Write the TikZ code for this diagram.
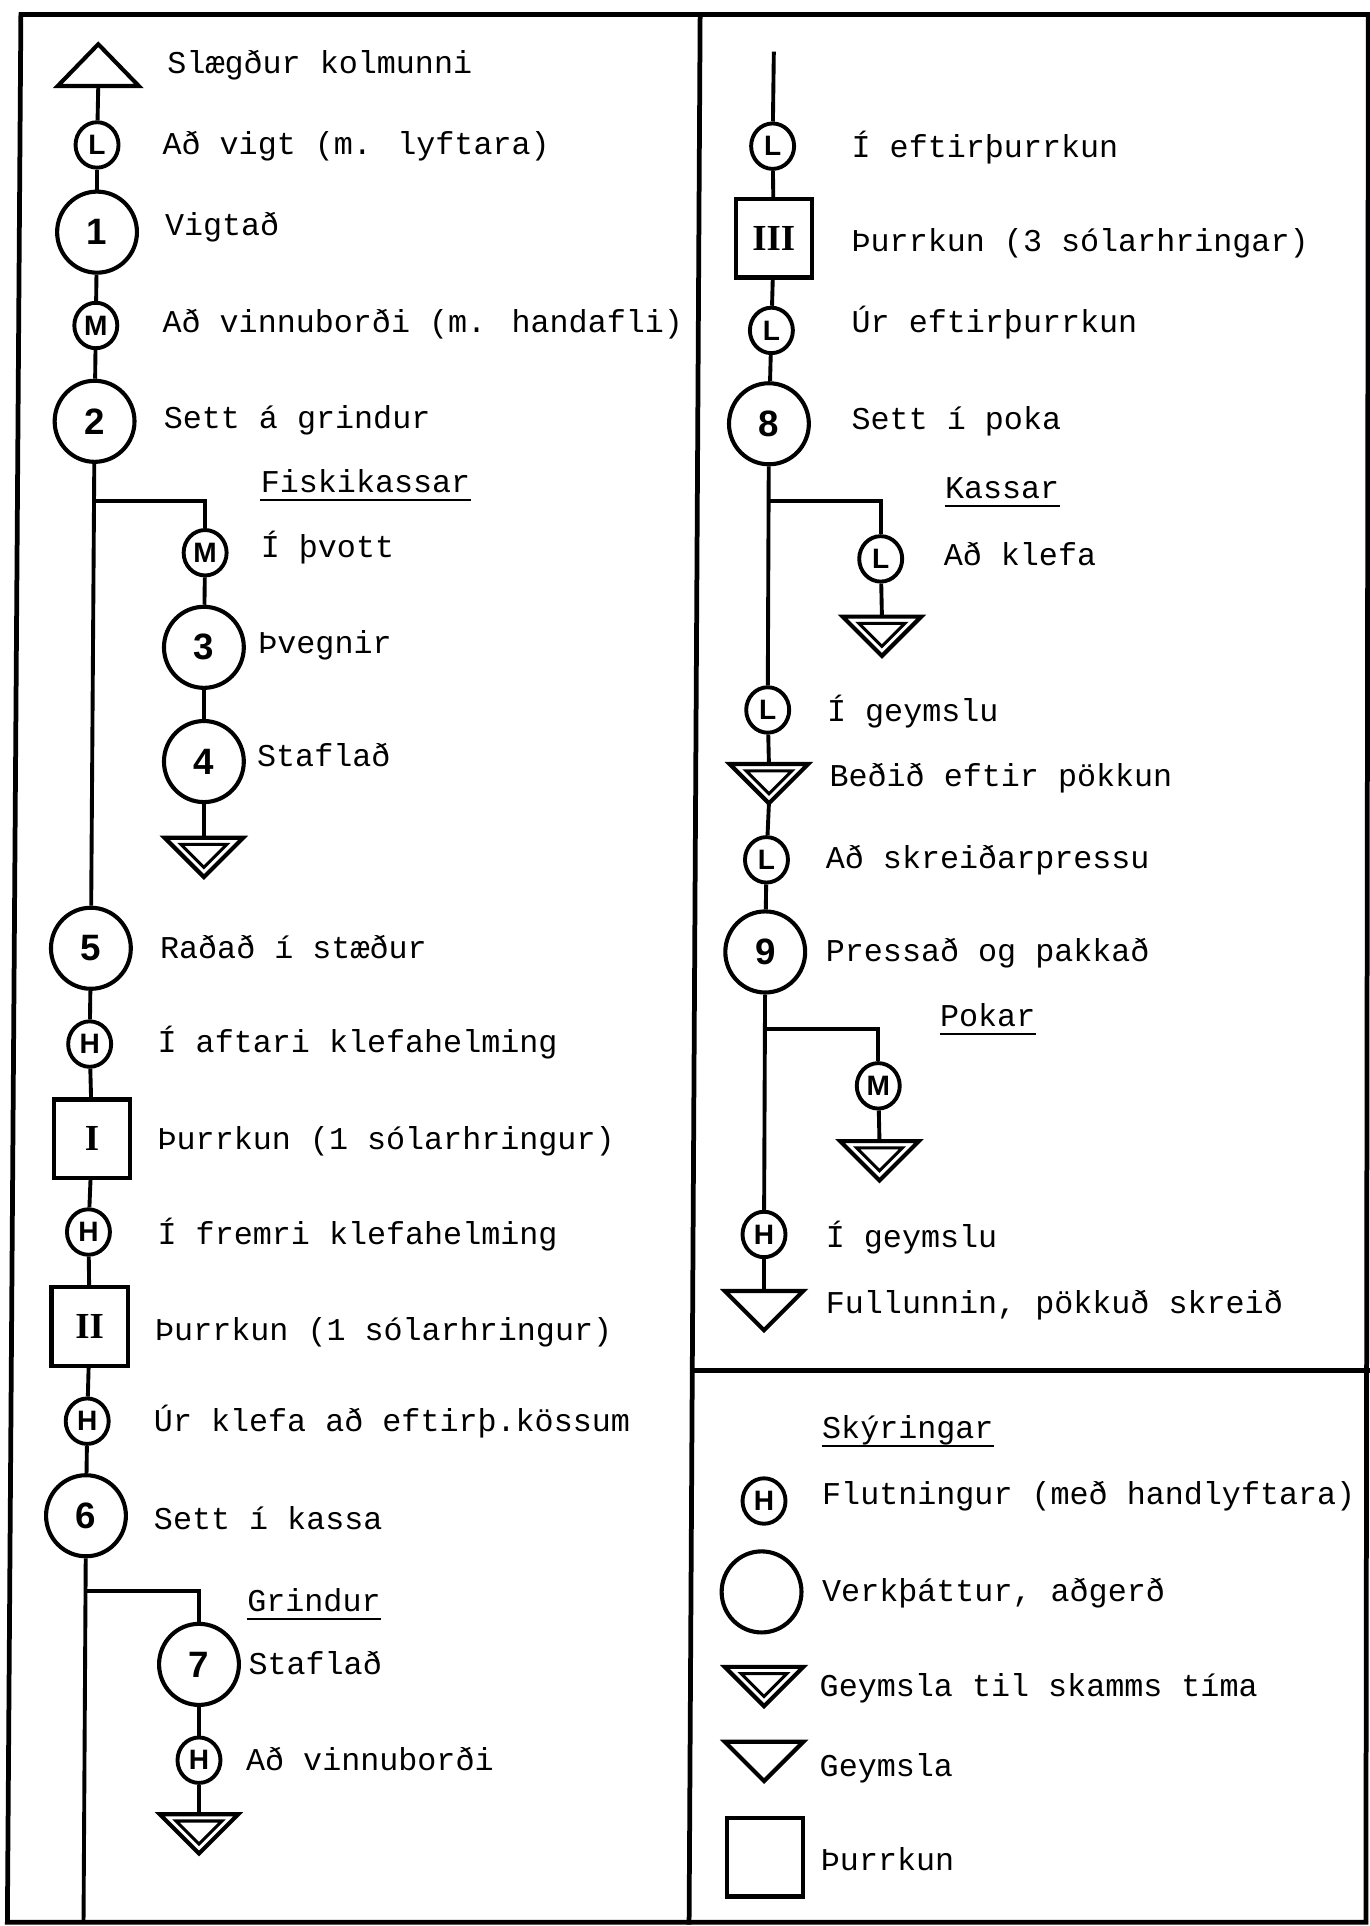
\documentclass[tikz,border=0pt]{standalone}
\usepackage{fontspec}
\setmainfont{Liberation Mono}
\newfontfamily\numfont{Liberation Sans}
\newfontfamily\romfont{Liberation Serif}
\usetikzlibrary{shapes.geometric}
\tikzset{
  conn/.style={line width=1.8pt},
  bigc/.style={ellipse,draw,line width=1.9pt,minimum width=13mm,minimum height=13.2mm,inner sep=0pt,font=\numfont\bfseries\fontsize{17}{17}\selectfont},
  smlc/.style={ellipse,draw,line width=1.8pt,minimum width=7mm,minimum height=7.4mm,inner sep=0pt,font=\numfont\bfseries\fontsize{13}{13}\selectfont},
  dbox/.style={rectangle,draw,line width=2pt,minimum width=12.4mm,minimum height=12.8mm,inner sep=0pt,font=\romfont\bfseries\fontsize{17}{17}\selectfont},
  lbl/.style={anchor=base west,inner sep=0pt,font=\fontsize{14.7}{16}\selectfont},
  uline/.style={line width=0.9pt},
  frm/.style={line width=2.2pt,line cap=rect,line join=miter},
  shp/.style={draw,line width=1.9pt,line join=miter},
  inshp/.style={draw,line width=1.4pt,line join=miter},
  dtri/.pic={\path[shp] (-32,0) -- (32,0) -- (0,32) -- cycle; \path[inshp] (-18.7,5.5) -- (18.7,5.5) -- (0,24.2) -- cycle;},
  stri/.pic={\path[shp] (-32,0) -- (32,0) -- (0,32) -- cycle;},
  utri/.pic={\path[shp] (0,0) -- (33,34) -- (-33,34) -- cycle;}
}
\newcommand\ulin[1]{\draw[uline] ([yshift=-1.2mm]#1.base west) -- ([yshift=-1.2mm]#1.base east);}
\begin{document}
\begin{tikzpicture}[x=0.2mm,y=-0.2mm]
\useasboundingbox (0,0) rectangle (1115,1568);
\fill[white] (0,0) rectangle (1115,1568);
% frame
\draw[frm] (17,12) -- (1116,12);
\draw[frm] (17,12) -- (6,1565) -- (1112,1565) -- (1114,12);
\draw[frm] (570,12) -- (561,1565);
\draw[frm] (566,1116) -- (1113,1116);

% ---------- left column ----------
\pic at (80,36) {utri};
\coordinate (st) at (80,70);
\node[lbl] (x1) at (136,60) {Slægður kolmunni};
\node[smlc] (lA) at (79,118) {L};
\node[lbl] (x2) at (132,126) {Að vigt (m. lyftara)};
\node[bigc] (c1) at (79,189) {1};
\node[lbl] (x3) at (134,192) {Vigtað};
\node[smlc] (mA) at (78,265) {M};
\node[lbl] (x4) at (132,271) {Að vinnuborði (m. handafli)};
\node[bigc] (c2) at (77,343) {2};
\node[lbl] (x5) at (133,349) {Sett á grindur};
\coordinate (b1) at (76,408);
\node[lbl] (x6) at (212,401) {Fiskikassar};
\ulin{x6}
\node[smlc] (mB) at (167,450) {M};
\node[lbl] (x7) at (212,454) {Í þvott};
\node[bigc] (c3) at (166,527) {3};
\node[lbl] (x8) at (210,532) {Þvegnir};
\node[bigc] (c4) at (166,620) {4};
\node[lbl] (x9) at (209,624) {Staflað};
\pic at (166,682) {dtri};
\coordinate (tA) at (166,682);
\node[bigc] (c5) at (74,772) {5};
\node[lbl] (x10) at (130,780) {Raðað í stæður};
\node[smlc] (hA) at (73,850) {H};
\node[lbl] (x11) at (128,857) {Í aftari klefahelming};
\node[dbox] (bI) at (75,927) {I};
\node[lbl] (x12) at (128,936) {Þurrkun (1 sólarhringur)};
\node[smlc] (hB) at (72,1003) {H};
\node[lbl] (x13) at (128,1013) {Í fremri klefahelming};
\node[dbox] (bII) at (73,1080) {II};
\node[lbl] (x14) at (126,1091) {Þurrkun (1 sólarhringur)};
\node[smlc] (hC) at (71,1157) {H};
\node[lbl] (x15) at (125,1165) {Úr klefa að eftirþ.kössum};
\node[bigc] (c6) at (70,1234) {6};
\node[lbl] (x16) at (125,1245) {Sett í kassa};
\coordinate (b2) at (69,1295);
\node[lbl] (x17) at (201,1312) {Grindur};
\ulin{x17}
\node[bigc] (c7) at (162,1355) {7};
\node[lbl] (x18) at (202,1363) {Staflað};
\node[smlc] (hD) at (162,1433) {H};
\node[lbl] (x19) at (200,1441) {Að vinnuborði};
\pic at (162,1477) {dtri};
\coordinate (tB) at (162,1477);
\coordinate (eL) at (68,1565);

\draw[conn] (st) -- (lA);
\draw[conn] (lA) -- (c1);
\draw[conn] (c1) -- (mA);
\draw[conn] (mA) -- (c2);
\draw[conn] (c2) -- (c5);
\draw[conn] (b1) -| (mB);
\draw[conn] (mB) -- (c3);
\draw[conn] (c3) -- (c4);
\draw[conn] (c4) -- (tA);
\draw[conn] (c5) -- (hA);
\draw[conn] (hA) -- (bI);
\draw[conn] (bI) -- (hB);
\draw[conn] (hB) -- (bII);
\draw[conn] (bII) -- (hC);
\draw[conn] (hC) -- (c6);
\draw[conn] (c6) -- (eL);
\draw[conn] (b2) -| (c7);
\draw[conn] (c7) -- (hD);
\draw[conn] (hD) -- (tB);

% ---------- right column ----------
\coordinate (tR) at (630,42);
\node[smlc] (lB) at (629,119) {L};
\node[lbl] (y1) at (693,128) {Í eftirþurrkun};
\node[dbox] (bIII) at (630,194) {III};
\node[lbl] (y2) at (693,205) {Þurrkun (3 sólarhringar)};
\node[smlc] (lC) at (628,269) {L};
\node[lbl] (y3) at (693,271) {Úr eftirþurrkun};
\node[bigc] (c8) at (626,345) {8};
\node[lbl] (y4) at (693,350) {Sett í poka};
\coordinate (b3) at (626,408);
\node[lbl] (y5) at (769,406) {Kassar};
\ulin{y5}
\node[smlc] (lD) at (717,455) {L};
\node[lbl] (y6) at (768,460) {Að klefa};
\pic at (718,502) {dtri};
\coordinate (tC) at (718,502);
\node[smlc] (lE) at (625,578) {L};
\node[lbl] (y7) at (673,587) {Í geymslu};
\pic at (626,622) {dtri};
\coordinate (tD) at (626,622);
\coordinate (tDb) at (626,654);
\node[lbl] (y8) at (675,640) {Beðið eftir pökkun};
\node[smlc] (lF) at (624,700) {L};
\node[lbl] (y9) at (672,707) {Að skreiðarpressu};
\node[bigc] (c9) at (623,775) {9};
\node[lbl] (y10) at (672,783) {Pressað og pakkað};
\coordinate (b4) at (622,838);
\node[lbl] (y11) at (765,836) {Pokar};
\ulin{y11}
\node[smlc] (mC) at (715,884) {M};
\pic at (716,929) {dtri};
\coordinate (tE) at (716,929);
\node[smlc] (hE) at (622,1005) {H};
\node[lbl] (y12) at (672,1016) {Í geymslu};
\pic at (622,1051) {stri};
\coordinate (tF) at (622,1051);
\node[lbl] (y13) at (672,1069) {Fullunnin, pökkuð skreið};

\draw[conn] (tR) -- (lB);
\draw[conn] (lB) -- (bIII);
\draw[conn] (bIII) -- (lC);
\draw[conn] (lC) -- (c8);
\draw[conn] (c8) -- (lE);
\draw[conn] (b3) -| (lD);
\draw[conn] (lD) -- (tC);
\draw[conn] (lE) -- (tD);
\draw[conn] (tDb) -- (lF);
\draw[conn] (lF) -- (c9);
\draw[conn] (c9) -- (hE);
\draw[conn] (b4) -| (mC);
\draw[conn] (mC) -- (tE);
\draw[conn] (hE) -- (tF);

% ---------- legend ----------
\node[lbl] (z0) at (669,1171) {Skýringar};
\ulin{z0}
\node[smlc] (hL) at (622,1222) {H};
\node[lbl] (z1) at (669,1225) {Flutningur (með handlyftara)};
\node[bigc] (cL) at (620,1296) {};
\node[lbl] (z2) at (669,1304) {Verkþáttur, aðgerð};
\pic at (622,1357) {dtri};
\node[lbl] (z3) at (667,1381) {Geymsla til skamms tíma};
\pic at (622,1418) {stri};
\node[lbl] (z4) at (667,1446) {Geymsla};
\node[dbox] (bL) at (623,1512) {};
\node[lbl] (z5) at (668,1523) {Þurrkun};
\end{tikzpicture}
\end{document}
